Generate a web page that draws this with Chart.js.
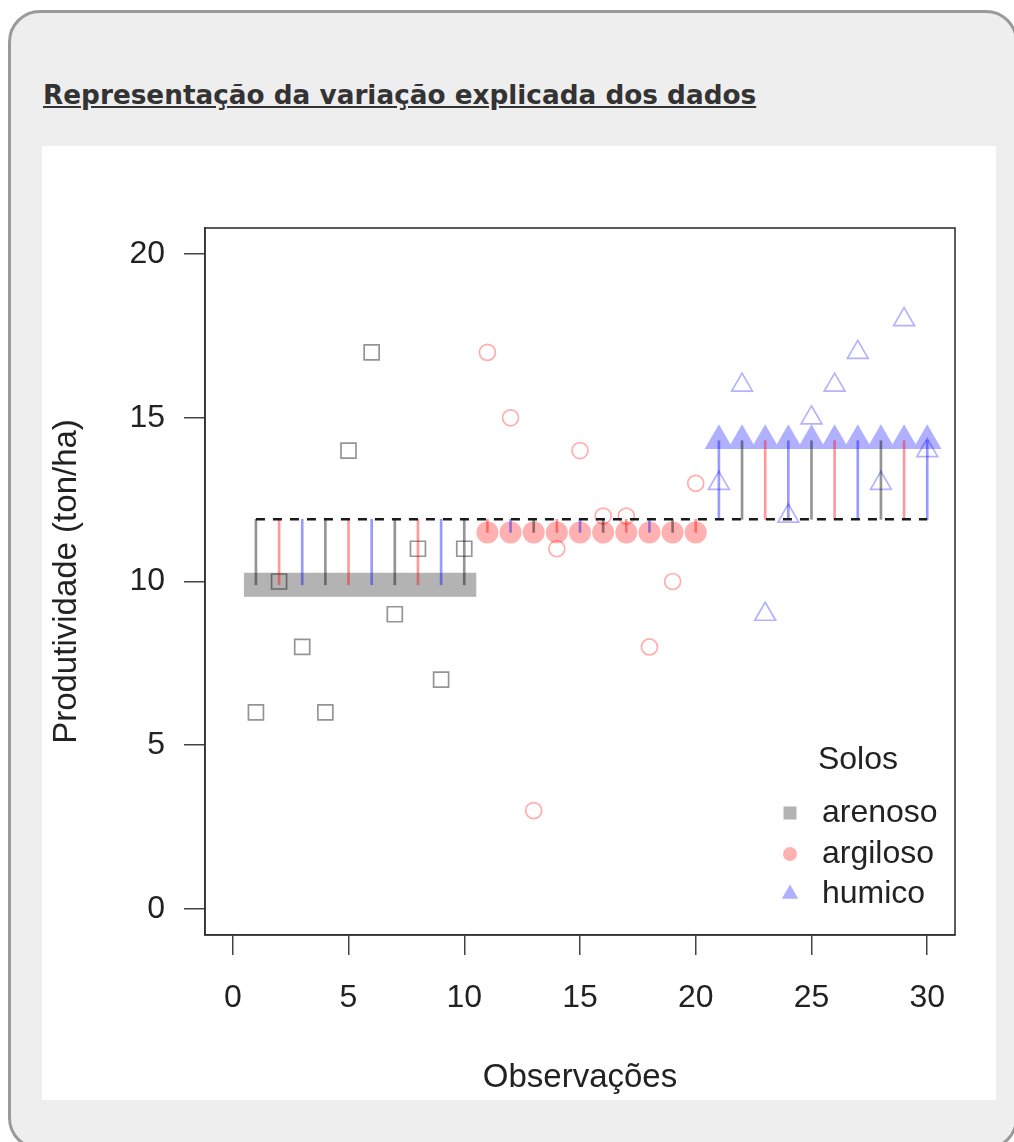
<!DOCTYPE html>
<html>
<head>
<meta charset="utf-8">
<title>Representação da variação explicada dos dados</title>
<script src="https://cdn.jsdelivr.net/npm/chart.js@4.4.1/dist/chart.umd.min.js"></script>
<style>
  html, body { margin: 0; padding: 0; background: #fff; overflow: hidden; width: 1014px; height: 1142px; }
  #card {
    position: absolute; left: 8px; top: 10px; width: 1010px; height: 1140px;
    background: #eeeeee; border: 3px solid #9a9a9a; border-radius: 32px; box-sizing: border-box;
  }
  #title {
    position: absolute; left: 43px; top: 82px; margin: 0;
    font: bold 26.3px/26.3px "DejaVu Sans", sans-serif; color: #333; text-decoration: underline;
    white-space: nowrap;
  }
  #plot { position: absolute; left: 42px; top: 146px; width: 954px; height: 954px; background: #fff; }
  #plot canvas { display: block; }
</style>
</head>
<body>
<div id="card"></div>
<h3 id="title">Representação da variação explicada dos dados</h3>
<div id="plot"><canvas id="chart" width="954" height="954"></canvas></div>

<script>
// observed yields, 10 observations per soil type
const soilNames = ['arenoso', 'argiloso', 'humico'];
const arenosoObs = [1, 2, 3, 4, 5, 6, 7, 8, 9, 10];
const argilosoObs = [11, 12, 13, 14, 15, 16, 17, 18, 19, 20];
const humicoObs = [21, 22, 23, 24, 25, 26, 27, 28, 29, 30];
const arenoso = [6, 10, 8, 6, 14, 17, 9, 11, 7, 11];
const argiloso = [17, 15, 3, 11, 14, 12, 12, 8, 10, 13];
const humico = [13, 16, 9, 12, 15, 16, 17, 13, 18, 14];

// group means and overall mean
const groupMeans = [9.9, 11.5, 14.3];
const grandMean = 11.9;

const xTicks = [0, 5, 10, 15, 20, 25, 30];
const yTicks = [0, 5, 10, 15, 20];
const xLabel = 'Observações';
const yLabel = 'Produtividade (ton/ha)';
const legendTitle = 'Solos';

// colours
const openColors = ['rgba(0,0,0,0.42)', 'rgba(255,0,0,0.32)', 'rgba(0,0,255,0.3)'];
const fillColors = ['#b3b3b3', '#ffb0b0', '#b0b0ff'];
const segColors = ['rgba(0,0,0,0.42)', 'rgba(255,0,0,0.4)', 'rgba(0,0,255,0.4)'];
const styles = ['rect', 'circle', 'triangle'];
const openRadius = [10.6, 8, 12];
const fillRadius = [17, 11, 16.5];

Chart.defaults.font.family = '"Liberation Sans", Arial, sans-serif';
Chart.defaults.color = '#222';

const groups = [
    { obs: arenosoObs, vals: arenoso },
    { obs: argilosoObs, vals: argiloso },
    { obs: humicoObs, vals: humico }
];

const datasets = [];

// raw observations (open symbols)
groups.forEach((g, k) => {
    datasets.push({
        type: 'scatter',
        label: soilNames[k],
        data: g.obs.map((x, i) => ({ x: x, y: g.vals[i] })),
        pointStyle: styles[k],
        pointRadius: openRadius[k],
        pointBackgroundColor: 'rgba(0,0,0,0)',
        pointBorderColor: openColors[k],
        pointBorderWidth: 1.7,
        order: 4
    });
});

// fitted group means (filled symbols)
groups.forEach((g, k) => {
    datasets.push({
        type: 'scatter',
        label: soilNames[k] + ' média',
        data: g.obs.map(x => ({ x: x, y: groupMeans[k] })),
        pointStyle: styles[k],
        pointRadius: fillRadius[k],
        pointBackgroundColor: fillColors[k],
        pointBorderWidth: 0,
        pointBorderColor: 'rgba(0,0,0,0)',
        order: 5
    });
});

// explained deviation segments: grand mean -> group mean
const segData = [];
const segCols = [];
groups.forEach((g, k) => {
    g.obs.forEach(x => {
        segData.push({ x: x, y: [grandMean, groupMeans[k]] });
        segCols.push(segColors[(x - 1) % 3]);
    });
});
datasets.push({
    type: 'bar',
    label: 'desvios',
    data: segData,
    backgroundColor: segCols,
    borderWidth: 0,
    barThickness: 2,
    grouped: false,
    order: 3
});

// overall mean
datasets.push({
    type: 'line',
    label: 'média geral',
    data: [{ x: arenosoObs[0], y: grandMean }, { x: humicoObs[humicoObs.length - 1], y: grandMean }],
    borderColor: '#1a1a1a',
    borderWidth: 2.5,
    borderDash: [9, 8],
    pointRadius: 0,
    fill: false,
    order: 1
});

// box around the plot region + legend inside it
const boxAndLegend = {
    id: 'boxAndLegend',
    afterDraw(chart) {
        const { ctx, chartArea: a } = chart;
        ctx.save();
        ctx.strokeStyle = '#333';
        ctx.lineWidth = 1.6;
        ctx.strokeRect(a.left, a.top, a.right - a.left, a.bottom - a.top);

        ctx.font = '32px "Liberation Sans", Arial, sans-serif';
        ctx.fillStyle = '#222';
        ctx.textBaseline = 'middle';
        ctx.textAlign = 'center';
        ctx.fillText(legendTitle, a.right - 97, a.bottom - 175);

        const rows = [a.bottom - 122, a.bottom - 81, a.bottom - 41];
        const mx = a.right - 165;
        const legendRadius = [9.2, 7, 9.5];
        soilNames.forEach((name, k) => {
            ctx.save();
            ctx.fillStyle = fillColors[k];
            ctx.strokeStyle = 'rgba(0,0,0,0)';
            Chart.helpers.drawPoint(ctx, { pointStyle: styles[k], radius: legendRadius[k], borderWidth: 0 }, mx, rows[k]);
            ctx.restore();
            ctx.fillStyle = '#222';
            ctx.textAlign = 'left';
            ctx.fillText(name, a.right - 133, rows[k]);
        });
        ctx.restore();
    }
};

new Chart(document.getElementById('chart'), {
    type: 'scatter',
    data: { datasets: datasets },
    options: {
        responsive: false,
        animation: false,
        layout: { padding: { left: 0, top: 82, right: 41, bottom: 0 } },
        plugins: {
            legend: { display: false },
            tooltip: { enabled: false }
        },
        scales: {
            x: {
                type: 'linear',
                min: -1.2,
                max: 31.2,
                offset: false,
                afterBuildTicks: s => { s.ticks = xTicks.map(v => ({ value: v })); },
                afterFit: s => { s.height = 165; },
                grid: { drawOnChartArea: false, drawTicks: true, tickLength: 20, color: '#444', lineWidth: 1.5, offset: false },
                border: { display: true, color: '#333', width: 1.6 },
                ticks: { font: { size: 32 }, padding: 24, color: '#222', maxRotation: 0 },
                title: { display: true, text: xLabel, font: { size: 33 }, color: '#222', padding: { top: 0, bottom: 2 } }
            },
            y: {
                type: 'linear',
                min: -0.8,
                max: 20.8,
                afterBuildTicks: s => { s.ticks = yTicks.map(v => ({ value: v })); },
                afterFit: s => { s.width = 163; },
                grid: { drawOnChartArea: false, drawTicks: true, tickLength: 21, color: '#444', lineWidth: 1.5 },
                border: { display: true, color: '#333', width: 1.6 },
                ticks: { font: { size: 32 }, padding: 19, color: '#222' },
                title: { display: true, text: yLabel, font: { size: 33 }, color: '#222', padding: { top: 5, bottom: 0 } }
            }
        }
    },
    plugins: [boxAndLegend]
});
</script>
</body>
</html>
